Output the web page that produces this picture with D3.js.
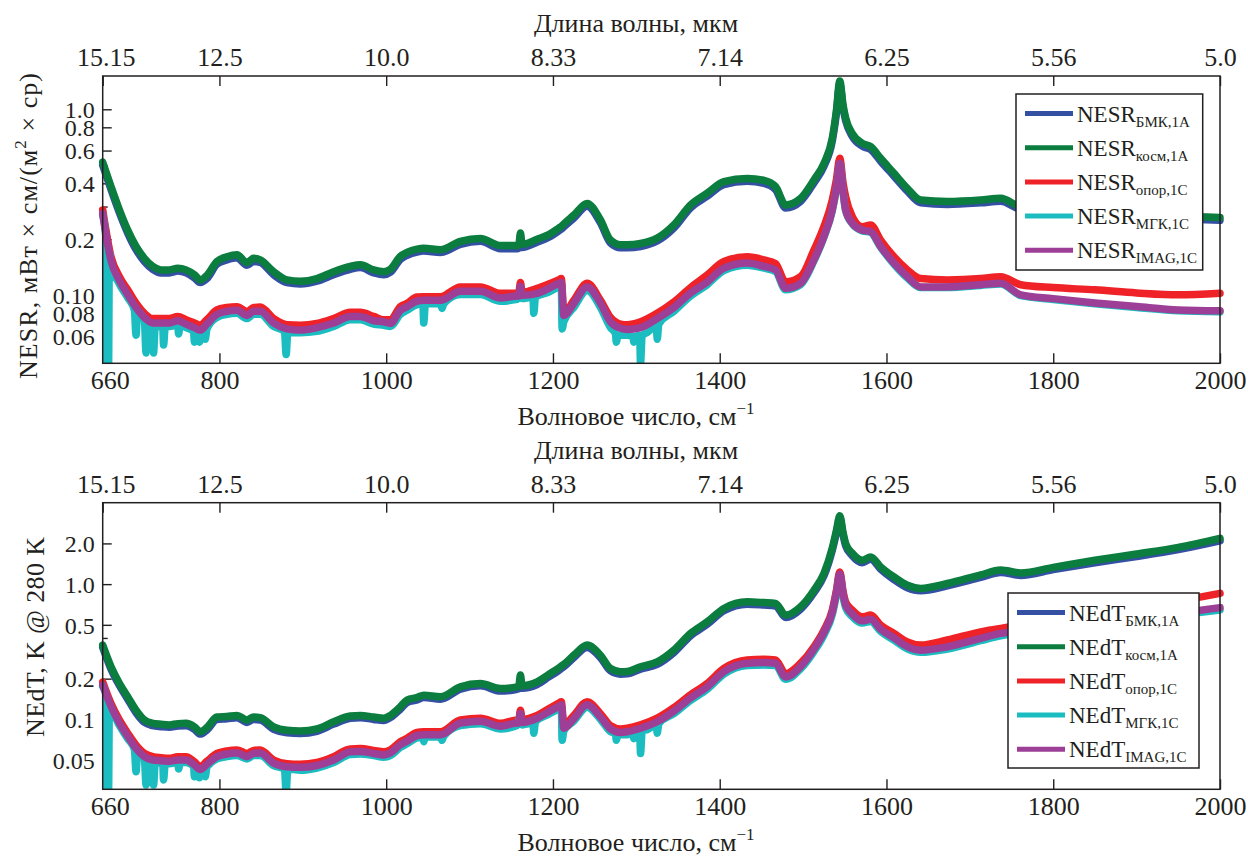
<!DOCTYPE html>
<html>
<head>
<meta charset="utf-8">
<script src="https://cdn.jsdelivr.net/npm/d3@7"></script>
<style>
  body { margin: 0; background: #fff; }
  svg text { font-family: 'Liberation Serif', 'DejaVu Serif', serif; fill: #231f20; }
</style>
</head>
<body>
<svg id="chart" width="1248" height="857"></svg>
<script>
// wavenumber grid (cm-1) shared by the smooth series
const WN = [
  660, 670, 680, 690, 700, 710, 720, 730, 740, 750,
  760, 770, 777, 785, 797, 809, 821, 833, 841, 849,
  865, 881, 897, 917, 937, 957, 969, 985, 997, 1005,
  1017, 1025, 1037, 1045, 1065, 1089, 1113, 1137, 1157, 1159,
  1161, 1163, 1181, 1195, 1207, 1210, 1213, 1225, 1241, 1257,
  1269, 1281, 1289, 1305, 1325, 1345, 1365, 1385, 1405, 1433,
  1453, 1467, 1479, 1497, 1513, 1525, 1535, 1540, 1544, 1548,
  1551, 1559, 1571, 1581, 1593, 1609, 1625, 1641, 1673, 1713,
  1737, 1761, 1800, 1850, 1900, 1950, 2000
];

// NESR panel
const NESR_BMK = [
  0.50, 0.37, 0.278, 0.216, 0.176, 0.152, 0.138, 0.132, 0.132, 0.135,
  0.132, 0.124, 0.117, 0.123, 0.147, 0.155, 0.159, 0.145, 0.152, 0.150,
  0.129, 0.117, 0.115, 0.119, 0.129, 0.138, 0.141, 0.132, 0.129, 0.133,
  0.156, 0.164, 0.171, 0.173, 0.170, 0.188, 0.195, 0.178, 0.178, 0.179,
  0.190, 0.181, 0.193, 0.205, 0.222, 0.227, 0.233, 0.260, 0.301, 0.245,
  0.191, 0.180, 0.180, 0.183, 0.196, 0.230, 0.295, 0.341, 0.394, 0.410,
  0.400, 0.370, 0.295, 0.320, 0.402, 0.494, 0.675, 0.955, 1.37, 1.01,
  0.87, 0.715, 0.633, 0.608, 0.526, 0.437, 0.363, 0.314, 0.308, 0.314,
  0.320, 0.290, 0.285, 0.275, 0.265, 0.258, 0.253
];
const NESR_KOSM = [
  0.52, 0.384, 0.288, 0.224, 0.183, 0.158, 0.143, 0.137, 0.137, 0.140,
  0.137, 0.129, 0.121, 0.128, 0.152, 0.161, 0.165, 0.150, 0.158, 0.155,
  0.134, 0.121, 0.119, 0.123, 0.134, 0.143, 0.146, 0.137, 0.134, 0.138,
  0.162, 0.170, 0.177, 0.179, 0.176, 0.195, 0.202, 0.185, 0.185, 0.186,
  0.216, 0.188, 0.200, 0.212, 0.230, 0.235, 0.242, 0.270, 0.312, 0.254,
  0.198, 0.187, 0.187, 0.190, 0.203, 0.239, 0.306, 0.354, 0.408, 0.425,
  0.415, 0.384, 0.306, 0.332, 0.417, 0.512, 0.70, 0.99, 1.42, 1.05,
  0.90, 0.74, 0.656, 0.63, 0.545, 0.453, 0.376, 0.325, 0.319, 0.325,
  0.332, 0.300, 0.295, 0.285, 0.275, 0.267, 0.262
];
const NESR_OPOR = [
  0.288, 0.161, 0.126, 0.107, 0.0906, 0.080, 0.075, 0.075, 0.075, 0.077,
  0.0738, 0.071, 0.069, 0.074, 0.0834, 0.086, 0.0869, 0.0818, 0.086, 0.0865,
  0.075, 0.0694, 0.069, 0.0705, 0.075, 0.081, 0.081, 0.077, 0.0738, 0.0738,
  0.0869, 0.0906, 0.098, 0.0983, 0.0983, 0.111, 0.111, 0.1025, 0.1025, 0.103,
  0.117, 0.104, 0.109, 0.115, 0.121, 0.123, 0.080, 0.094, 0.116, 0.094,
  0.076, 0.070, 0.0694, 0.072, 0.080, 0.092, 0.110, 0.1286, 0.152, 0.161,
  0.155, 0.148, 0.118, 0.126, 0.175, 0.234, 0.325, 0.42, 0.545, 0.40,
  0.339, 0.265, 0.234, 0.239, 0.198, 0.161, 0.137, 0.123, 0.121, 0.123,
  0.126, 0.114, 0.110, 0.107, 0.103, 0.1006, 0.1025
];
const NESR_IMAG = [
  0.275, 0.153, 0.120, 0.101, 0.086, 0.076, 0.071, 0.071, 0.071, 0.073,
  0.070, 0.067, 0.065, 0.070, 0.079, 0.082, 0.083, 0.078, 0.082, 0.082,
  0.071, 0.066, 0.065, 0.067, 0.071, 0.077, 0.077, 0.073, 0.072, 0.0707,
  0.083, 0.0869, 0.093, 0.094, 0.094, 0.105, 0.105, 0.0967, 0.099, 0.099,
  0.112, 0.100, 0.1025, 0.109, 0.116, 0.117, 0.078, 0.0906, 0.111, 0.0906,
  0.072, 0.0665, 0.0655, 0.067, 0.075, 0.086, 0.103, 0.118, 0.140, 0.149,
  0.143, 0.137, 0.109, 0.116, 0.155, 0.207, 0.288, 0.38, 0.512, 0.36,
  0.288, 0.244, 0.224, 0.220, 0.183, 0.149, 0.126, 0.111, 0.111, 0.114,
  0.116, 0.1006, 0.096, 0.091, 0.087, 0.0834, 0.0825
];

// the МГК series has its own grid because of the narrow dips
const MGK_WN = [
  660, 664, 665, 667, 668, 670, 680, 690, 698, 700,
  702, 710, 712, 714, 720, 721, 723, 732, 733, 735,
  740, 750, 751, 753, 760, 769, 770, 772, 776, 778,
  783, 785, 797, 809, 821, 833, 841, 849, 865, 878,
  880, 882, 897, 917, 937, 957, 969, 985, 997, 1005,
  1017, 1025, 1037, 1044, 1045, 1047, 1065, 1067, 1069, 1089,
  1113, 1137, 1157, 1161, 1163, 1176, 1177, 1179, 1195, 1207,
  1210, 1211, 1213, 1225, 1241, 1257, 1269, 1275, 1276, 1278,
  1289, 1296, 1297, 1299, 1304, 1305, 1307, 1313, 1324, 1325,
  1327, 1345, 1365, 1385, 1405, 1433, 1453, 1467, 1479, 1497,
  1513, 1525, 1535, 1540, 1544, 1548, 1551, 1559, 1571, 1581,
  1593, 1609, 1625, 1641, 1673, 1713, 1737, 1761, 1800, 1850,
  1900, 1950, 2000
];
const NESR_MGK = [
  0.27, 0.20, 0.04, 0.04, 0.17, 0.148, 0.115, 0.097, 0.083, 0.061,
  0.082, 0.073, 0.049, 0.072, 0.068, 0.049, 0.068, 0.068, 0.054, 0.068,
  0.068, 0.069, 0.062, 0.069, 0.067, 0.064, 0.056, 0.063, 0.056, 0.062,
  0.058, 0.066, 0.076, 0.079, 0.080, 0.075, 0.079, 0.079, 0.068, 0.064,
  0.048, 0.063, 0.063, 0.064, 0.068, 0.074, 0.074, 0.070, 0.069, 0.068,
  0.079, 0.083, 0.089, 0.090, 0.071, 0.090, 0.090, 0.085, 0.090, 0.101,
  0.101, 0.093, 0.095, 0.105, 0.096, 0.098, 0.080, 0.098, 0.104, 0.111,
  0.112, 0.066, 0.072, 0.086, 0.106, 0.086, 0.067, 0.062, 0.056, 0.061,
  0.061, 0.060, 0.056, 0.060, 0.061, 0.043, 0.061, 0.063, 0.069, 0.058,
  0.070, 0.082, 0.099, 0.114, 0.136, 0.145, 0.140, 0.134, 0.107, 0.114,
  0.153, 0.205, 0.285, 0.375, 0.505, 0.355, 0.285, 0.242, 0.222, 0.218,
  0.181, 0.147, 0.124, 0.110, 0.110, 0.113, 0.115, 0.0995, 0.095, 0.090,
  0.086, 0.0825, 0.0815
];

// NEdT panel
const NEDT_BMK = [
  0.34, 0.235, 0.178, 0.141, 0.112, 0.095, 0.0898, 0.0883, 0.0874, 0.0893,
  0.0898, 0.0845, 0.0778, 0.0835, 0.0998, 0.101, 0.103, 0.095, 0.0998, 0.0989,
  0.0845, 0.0797, 0.0787, 0.0816, 0.0922, 0.102, 0.103, 0.0998, 0.098, 0.103,
  0.119, 0.133, 0.139, 0.145, 0.141, 0.167, 0.177, 0.162, 0.167, 0.168,
  0.18, 0.17, 0.181, 0.206, 0.230, 0.238, 0.245, 0.286, 0.340, 0.286,
  0.228, 0.216, 0.217, 0.235, 0.255, 0.312, 0.415, 0.505, 0.635, 0.71,
  0.70, 0.69, 0.566, 0.653, 0.864, 1.15, 1.78, 2.4, 3.07, 2.3,
  1.92, 1.62, 1.44, 1.53, 1.29, 1.08, 0.94, 0.893, 0.97, 1.12,
  1.22, 1.16, 1.28, 1.44, 1.60, 1.80, 2.09
];
const NEDT_KOSM = [
  0.354, 0.245, 0.185, 0.147, 0.117, 0.099, 0.0935, 0.092, 0.091, 0.093,
  0.0935, 0.088, 0.081, 0.087, 0.104, 0.105, 0.107, 0.099, 0.104, 0.103,
  0.088, 0.083, 0.082, 0.085, 0.096, 0.106, 0.107, 0.104, 0.102, 0.107,
  0.124, 0.139, 0.145, 0.151, 0.147, 0.174, 0.184, 0.169, 0.174, 0.175,
  0.213, 0.177, 0.189, 0.215, 0.240, 0.248, 0.255, 0.298, 0.354, 0.298,
  0.238, 0.225, 0.226, 0.245, 0.266, 0.325, 0.432, 0.526, 0.661, 0.74,
  0.73, 0.72, 0.59, 0.68, 0.90, 1.2, 1.85, 2.5, 3.2, 2.4,
  2.0, 1.69, 1.5, 1.59, 1.34, 1.13, 0.98, 0.93, 1.01, 1.17,
  1.27, 1.21, 1.33, 1.50, 1.67, 1.87, 2.18
];
const NEDT_OPOR = [
  0.189, 0.131, 0.099, 0.079, 0.0645, 0.056, 0.053, 0.052, 0.0515, 0.053,
  0.053, 0.0485, 0.0446, 0.049, 0.056, 0.0585, 0.0594, 0.056, 0.059, 0.0594,
  0.050, 0.047, 0.0465, 0.048, 0.053, 0.0605, 0.0608, 0.059, 0.0575, 0.0594,
  0.0683, 0.0725, 0.080, 0.081, 0.081, 0.099, 0.102, 0.0935, 0.099, 0.099,
  0.117, 0.100, 0.107, 0.120, 0.132, 0.135, 0.091, 0.107, 0.135, 0.110,
  0.090, 0.085, 0.086, 0.091, 0.102, 0.122, 0.152, 0.184, 0.238, 0.275,
  0.278, 0.275, 0.218, 0.26, 0.344, 0.457, 0.642, 0.90, 1.23, 0.88,
  0.74, 0.642, 0.573, 0.59, 0.498, 0.432, 0.374, 0.354, 0.386, 0.444,
  0.47, 0.50, 0.55, 0.61, 0.67, 0.75, 0.855
];
const NEDT_IMAG = [
  0.18, 0.125, 0.094, 0.075, 0.061, 0.053, 0.050, 0.0495, 0.049, 0.050,
  0.050, 0.046, 0.0425, 0.0465, 0.053, 0.0555, 0.0565, 0.053, 0.056, 0.0565,
  0.0475, 0.0447, 0.0442, 0.0456, 0.050, 0.0575, 0.0578, 0.056, 0.0546, 0.0565,
  0.065, 0.069, 0.076, 0.077, 0.077, 0.094, 0.097, 0.089, 0.094, 0.094,
  0.111, 0.095, 0.102, 0.114, 0.125, 0.128, 0.086, 0.101, 0.128, 0.104,
  0.085, 0.080, 0.081, 0.086, 0.096, 0.115, 0.144, 0.174, 0.225, 0.26,
  0.263, 0.26, 0.206, 0.246, 0.33, 0.44, 0.62, 0.87, 1.19, 0.84,
  0.70, 0.60, 0.535, 0.55, 0.465, 0.40, 0.345, 0.325, 0.344, 0.397,
  0.432, 0.45, 0.48, 0.52, 0.56, 0.61, 0.67
];
const NEDT_MGK = [
  0.175, 0.15, 0.028, 0.028, 0.125, 0.12, 0.09, 0.072, 0.060, 0.041,
  0.057, 0.051, 0.0327, 0.050, 0.048, 0.0327, 0.048, 0.047, 0.0356, 0.047,
  0.047, 0.048, 0.043, 0.048, 0.048, 0.045, 0.0376, 0.044, 0.037, 0.043,
  0.0376, 0.0445, 0.051, 0.053, 0.054, 0.051, 0.054, 0.054, 0.0455, 0.043,
  0.029, 0.043, 0.042, 0.0437, 0.048, 0.055, 0.0555, 0.054, 0.0525, 0.054,
  0.062, 0.066, 0.073, 0.074, 0.0683, 0.074, 0.074, 0.070, 0.075, 0.090,
  0.093, 0.085, 0.090, 0.106, 0.091, 0.094, 0.079, 0.096, 0.109, 0.120,
  0.123, 0.070, 0.082, 0.097, 0.123, 0.100, 0.081, 0.078, 0.070, 0.077,
  0.077, 0.079, 0.072, 0.080, 0.082, 0.056, 0.082, 0.084, 0.091, 0.079,
  0.093, 0.110, 0.138, 0.167, 0.216, 0.25, 0.252, 0.25, 0.198, 0.236,
  0.317, 0.42, 0.595, 0.835, 1.14, 0.805, 0.67, 0.575, 0.515, 0.53,
  0.447, 0.385, 0.332, 0.313, 0.331, 0.382, 0.415, 0.432, 0.46, 0.50,
  0.54, 0.59, 0.645
];

// axes
const WN_TICKS = [660, 800, 1000, 1200, 1400, 1600, 1800, 2000];
const WL_LABELS = ['15.15', '12.5', '10.0', '8.33', '7.14', '6.25', '5.56', '5.0'];
const NESR_TICKS = [1.0, 0.8, 0.6, 0.4, 0.2, 0.1, 0.08, 0.06];
const NESR_TICK_LABELS = ['1.0', '0.8', '0.6', '0.4', '0.2', '0.10', '0.08', '0.06'];
const NESR_MINOR = [0.5, 0.3, 0.055, 0.05, 0.045];
const NEDT_TICKS = [2.0, 1.0, 0.5, 0.2, 0.1, 0.05];
const NEDT_TICK_LABELS = ['2.0', '1.0', '0.5', '0.2', '0.1', '0.05'];
const NEDT_MINOR = [0.4, 0.3, 0.045, 0.04, 0.035];

const SUBS = ['БМК,1A', 'косм,1A', 'опор,1C', 'МГК,1C', 'IMAG,1C'];
const COLORS = ['#3450a2', '#0b7d3e', '#ee2227', '#1bbdc0', '#9d3f97'];

const LEFT = 102.7;
const RIGHT = 1220;
const INK = '#231f20';

const svg = d3.select('#chart');

const x = d3.scaleLinear().domain([660, 2000]).range([LEFT, RIGHT]);

// centre a multi-part text on its anchor point; optionally force its length
function centreText(t, length) {
  if (length) t.attr('textLength', length).attr('lengthAdjust', 'spacing');
  const len = length || t.node().getComputedTextLength();
  t.attr('text-anchor', 'start').attr('x', -len / 2);
}

function drawPanel(p) {
  const y = d3.scaleLog().domain(p.yDomain).range([p.bottom, p.top]);
  const g = svg.append('g');

  const clipId = 'clip-' + p.id;
  svg.append('clipPath').attr('id', clipId)
    .append('rect')
    .attr('x', LEFT - 6).attr('y', p.top)
    .attr('width', RIGHT - LEFT + 12).attr('height', p.bottom - p.top);

  // bottom axis (ticks inward)
  const xb = g.append('g')
    .attr('transform', 'translate(0,' + p.bottom + ')')
    .call(d3.axisBottom(x).tickValues(WN_TICKS).tickSize(-10).tickFormat(d3.format('d')));
  xb.select('.domain').remove();
  xb.selectAll('text').attr('y', 26).attr('dy', '0')
    .attr('dx', d => d === 660 ? 7 : 0)
    .style('font-size', '26px');

  // top axis: wavelength
  const xt = g.append('g')
    .attr('transform', 'translate(0,' + p.top + ')')
    .call(d3.axisTop(x).tickValues(WN_TICKS).tickSize(-10).tickFormat((d, i) => WL_LABELS[i]));
  xt.select('.domain').remove();
  xt.selectAll('text').attr('y', -10).attr('dy', '0')
    .attr('dx', d => d === 660 ? 3 : 0)
    .style('font-size', '26px');

  // left axis
  const yl = g.append('g')
    .attr('transform', 'translate(' + LEFT + ',0)')
    .call(d3.axisLeft(y).tickValues(p.ticks).tickSize(-9).tickFormat((d, i) => p.tickLabels[i]));
  yl.select('.domain').remove();
  yl.selectAll('text').attr('x', -8).attr('dy', '0.34em').style('font-size', '24px');

  const ym = g.append('g')
    .attr('transform', 'translate(' + LEFT + ',0)')
    .call(d3.axisLeft(y).tickValues(p.minor).tickSize(-5).tickFormat(''));
  ym.select('.domain').remove();

  g.selectAll('.tick line').attr('stroke', INK).attr('stroke-width', 1.4);
  g.selectAll('.tick text').attr('fill', INK).style('font-family', "'Liberation Serif', serif");

  // series
  const line = d3.line()
    .x(d => x(d[0]))
    .y(d => y(d[1]))
    .curve(d3.curveMonotoneX);

  const plot = g.append('g').attr('clip-path', 'url(#' + clipId + ')');
  p.series.forEach(s => {
    plot.append('path')
      .datum(s.wn.map((w, i) => [w, s.values[i]]))
      .attr('fill', 'none')
      .attr('stroke', s.color)
      .attr('stroke-width', 7.5)
      .attr('stroke-linejoin', 'round')
      .attr('stroke-linecap', 'round')
      .attr('d', line);
  });

  // frame
  g.append('rect')
    .attr('x', LEFT).attr('y', p.top)
    .attr('width', RIGHT - LEFT).attr('height', p.bottom - p.top)
    .attr('fill', 'none').attr('stroke', INK).attr('stroke-width', 1.5);

  // axis titles
  g.append('text')
    .attr('x', 636).attr('y', p.top - 44)
    .attr('text-anchor', 'middle').style('font-size', '26px')
    .text('Длина волны, мкм');

  const xTitle = g.append('text')
    .attr('transform', 'translate(636,' + (p.bottom + 62) + ')')
    .style('font-size', '26px');
  xTitle.append('tspan').text('Волновое число, см');
  xTitle.append('tspan').attr('dy', -11).style('font-size', '17px').text('−1');
  centreText(xTitle);

  const yTitle = g.append('text')
    .attr('transform', 'translate(' + p.yTitleX + ',' + p.yTitleY + ') rotate(-90)')
    .style('font-size', '26px');
  p.yTitle.forEach(part => {
    const t = yTitle.append('tspan').text(part.text);
    if (part.sup) t.attr('dy', -11).style('font-size', '17px');
    if (part.after) t.attr('dy', 11);
  });
  centreText(yTitle, p.yTitleLength);

  // legend
  const lg = g.append('g');
  lg.append('rect')
    .attr('x', p.legend.x).attr('y', p.legend.y)
    .attr('width', p.legend.w).attr('height', p.legend.h)
    .attr('fill', '#fff').attr('stroke', INK).attr('stroke-width', 1.5);
  p.series.slice().sort((a, b) => a.order - b.order).forEach((s, i) => {
    const cy = p.legend.y + 19.5 + i * 34.2;
    lg.append('line')
      .attr('x1', p.legend.x + 9).attr('x2', p.legend.x + 57)
      .attr('y1', cy).attr('y2', cy)
      .attr('stroke', s.color).attr('stroke-width', 5);
    const t = lg.append('text')
      .attr('x', p.legend.x + 61).attr('y', cy + 8)
      .style('font-size', '23px');
    t.append('tspan').text(p.name);
    t.append('tspan').attr('dy', 5).style('font-size', '15px').text(SUBS[s.order]);
  });
}

drawPanel({
  id: 'nesr',
  top: 76, bottom: 363.3,
  yDomain: [0.0431, 1.51],
  ticks: NESR_TICKS, tickLabels: NESR_TICK_LABELS, minor: NESR_MINOR,
  name: 'NESR',
  yTitleX: 37, yTitleY: 226, yTitleLength: 306,
  yTitle: [
    { text: 'NESR, мВт × см/(м' },
    { text: '2', sup: true },
    { text: ' × ср)', after: true }
  ],
  legend: { x: 1016, y: 94, w: 186.7, h: 176 },
  series: [
    { wn: WN, values: NESR_BMK, color: COLORS[0], order: 0 },
    { wn: WN, values: NESR_KOSM, color: COLORS[1], order: 1 },
    { wn: WN, values: NESR_OPOR, color: COLORS[2], order: 2 },
    { wn: MGK_WN, values: NESR_MGK, color: COLORS[3], order: 3 },
    { wn: WN, values: NESR_IMAG, color: COLORS[4], order: 4 }
  ]
});

drawPanel({
  id: 'nedt',
  top: 502.7, bottom: 789.3,
  yDomain: [0.0304, 4.0],
  ticks: NEDT_TICKS, tickLabels: NEDT_TICK_LABELS, minor: NEDT_MINOR,
  name: 'NEdT',
  yTitleX: 44, yTitleY: 637, yTitleLength: 200,
  yTitle: [{ text: 'NEdT, K @ 280 K' }],
  legend: { x: 1008, y: 593, w: 191, h: 175 },
  series: [
    { wn: WN, values: NEDT_BMK, color: COLORS[0], order: 0 },
    { wn: WN, values: NEDT_KOSM, color: COLORS[1], order: 1 },
    { wn: WN, values: NEDT_OPOR, color: COLORS[2], order: 2 },
    { wn: MGK_WN, values: NEDT_MGK, color: COLORS[3], order: 3 },
    { wn: WN, values: NEDT_IMAG, color: COLORS[4], order: 4 }
  ]
});
</script>
</body>
</html>
